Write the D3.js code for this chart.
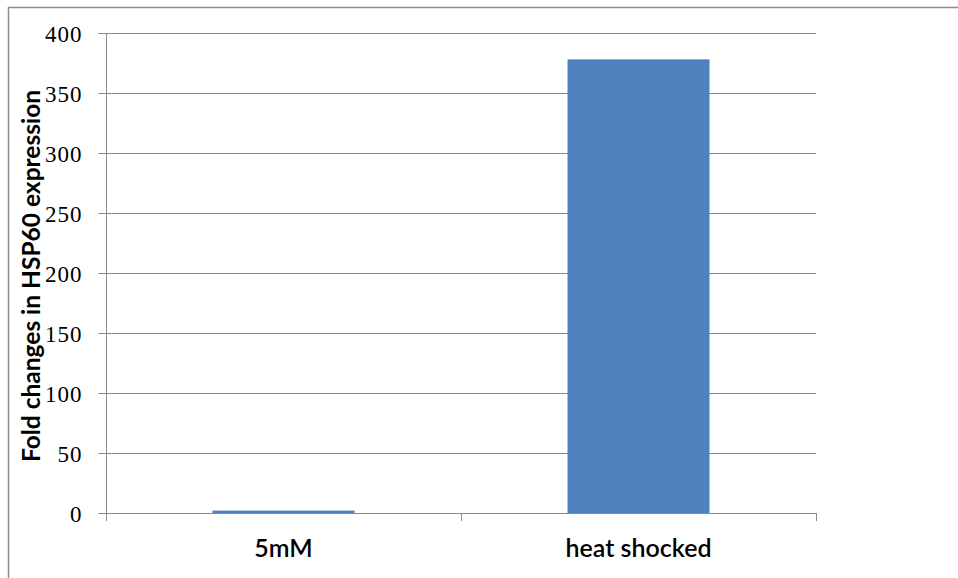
<!DOCTYPE html>
<html><head><meta charset="utf-8">
<script src="https://cdn.jsdelivr.net/npm/d3@7"></script>
<style>body{margin:0;background:#fff}svg{display:block}</style>
</head><body>
<svg id="c" width="958" height="578"></svg>
<script>
const categories = ["5mM", "heat shocked"];
const values = [2, 378];
const yTicks = [0, 50, 100, 150, 200, 250, 300, 350, 400];
const yTitle = "Fold changes in HSP60 expression";

const svg = d3.select("#c");
const m = {left:106, right:816, top:33, bottom:513};
svg.append("line").attr("x1",8).attr("x2",958).attr("y1",7.5).attr("y2",7.5).attr("stroke","#8c8c8c").attr("stroke-width",1.5);
svg.append("line").attr("x1",8.5).attr("x2",8.5).attr("y1",7).attr("y2",578).attr("stroke","#8c8c8c").attr("stroke-width",1.5);

const x = d3.scaleBand().domain(categories).range([m.left, m.right]).paddingInner(0.6).paddingOuter(0.3);
const y = d3.scaleLinear().domain([0,400]).range([m.bottom, m.top]);

svg.append("g").selectAll("line").data(yTicks.filter(d=>d>0)).join("line")
  .attr("x1",m.left).attr("x2",m.right).attr("y1",d=>Math.round(y(d))+0.5).attr("y2",d=>Math.round(y(d))+0.5)
  .attr("stroke","#8a8a8a").attr("stroke-width",1);

svg.append("g").selectAll("rect").data(values).join("rect")
  .attr("x",(d,i)=>x(categories[i])).attr("width",x.bandwidth())
  .attr("y",d=>y(d)).attr("height",d=>y(0)-y(d))
  .attr("fill","#4f81bd");

const yAxis = d3.axisLeft(y).tickValues(yTicks).tickSize(8).tickPadding(16).tickFormat(d3.format("d"));
const gy = svg.append("g").attr("transform",`translate(${m.left+0.5},0)`).call(yAxis);
gy.select(".domain").attr("stroke","#8a8a8a").attr("d",`M-8,${y(400)+0.5}H0V${y(0)+0.5}`);
gy.selectAll(".tick line").attr("stroke","#8a8a8a");
gy.selectAll("text").attr("font-family","'Liberation Serif', serif").attr("font-size","23px").attr("fill","#000").attr("dy","0.35em").attr("letter-spacing","1px");

const xOuter = d3.scalePoint().domain([0,1,2]).range([m.left, m.right]);
const gx = svg.append("g");
gx.append("line").attr("x1",m.left).attr("x2",m.right).attr("y1",m.bottom+0.5).attr("y2",m.bottom+0.5).attr("stroke","#8a8a8a");
gx.selectAll(".tk").data([0,1,2]).join("line").attr("class","tk")
  .attr("x1",d=>Math.round(xOuter(d))+0.5).attr("x2",d=>Math.round(xOuter(d))+0.5)
  .attr("y1",m.bottom).attr("y2",m.bottom+8).attr("stroke","#8a8a8a");
const xAxis = d3.axisBottom(x).tickSize(0).tickPadding(0);
const gxl = svg.append("g").attr("transform",`translate(0,${m.bottom})`).call(xAxis);
gxl.select(".domain").remove();
gxl.selectAll("text").attr("font-family","Lato, 'Open Sans', sans-serif").attr("font-size","25px").attr("font-weight","600").attr("fill","#000").attr("y",44).attr("dy",0);

svg.append("text").attr("transform","translate(40,276) rotate(-90)")
  .attr("text-anchor","middle").attr("font-family","Lato, 'Open Sans', sans-serif").attr("font-weight","bold")
  .attr("font-size","24.5px").attr("fill","#000").text(yTitle);
</script>
</body></html>
